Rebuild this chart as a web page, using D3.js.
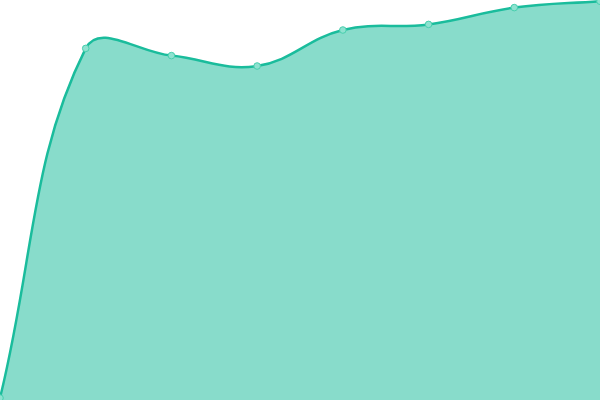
<!DOCTYPE html>
<html><head><meta charset="utf-8">
<script src="https://cdn.jsdelivr.net/npm/d3@7"></script>
<style>html,body{margin:0;padding:0;background:#fff;}svg{display:block;}</style>
</head><body>
<svg id="c" width="600" height="400"></svg>
<script>
const categories = [0,1,2,3,4,5,6,7];
const values = [0.5, 87.9, 86.1, 83.5, 92.5, 93.9, 98.1, 99.7];
const tension = 0.4;

const W = 600, H = 400;
const svg = d3.select("#c");
const x = d3.scalePoint().domain(categories).range([0, W]);
const y = d3.scaleLinear().domain([0, 100]).range([H, 0]);

// Chart.js style spline (tension 0.4) built from scaled points
function splinePath(pts) {
  const n = pts.length;
  const cps = pts.map((p, i) => {
    const prev = pts[Math.max(0, i - 1)], next = pts[Math.min(n - 1, i + 1)];
    const d01 = Math.hypot(p[0] - prev[0], p[1] - prev[1]);
    const d12 = Math.hypot(next[0] - p[0], next[1] - p[1]);
    let s01 = d01 / (d01 + d12), s12 = d12 / (d01 + d12);
    if (!isFinite(s01)) s01 = 0; if (!isFinite(s12)) s12 = 0;
    const fa = tension * s01, fb = tension * s12;
    const cap = (a, lo, hi) => Math.max(lo, Math.min(hi, a));
    return {
      prev: [cap(p[0] - fa * (next[0] - prev[0]), 0, W), cap(p[1] - fa * (next[1] - prev[1]), 0, H)],
      next: [cap(p[0] + fb * (next[0] - prev[0]), 0, W), cap(p[1] + fb * (next[1] - prev[1]), 0, H)]
    };
  });
  const path = d3.path();
  path.moveTo(pts[0][0], pts[0][1]);
  for (let i = 1; i < n; i++) {
    const a = cps[i - 1].next, b = cps[i].prev;
    path.bezierCurveTo(a[0], a[1], b[0], b[1], pts[i][0], pts[i][1]);
  }
  return path.toString();
}

const pts = categories.map((c, i) => [x(c), y(values[i])]);
const linePath = splinePath(pts);

svg.append("path")
  .attr("fill", "rgba(26,188,156,0.52)")
  .attr("d", linePath + `L${x(categories[categories.length-1])},${y(0)}L${x(categories[0])},${y(0)}Z`);
svg.append("path")
  .attr("fill", "none").attr("stroke", "#1abc9c").attr("stroke-width", 2.5)
  .attr("d", linePath);
svg.selectAll("circle").data(pts).enter().append("circle")
  .attr("cx", d => d[0]).attr("cy", d => d[1]).attr("r", 3.3)
  .attr("fill", "#8ee2d0").attr("stroke", "#48cfae").attr("stroke-width", 1);
</script>
</body></html>
